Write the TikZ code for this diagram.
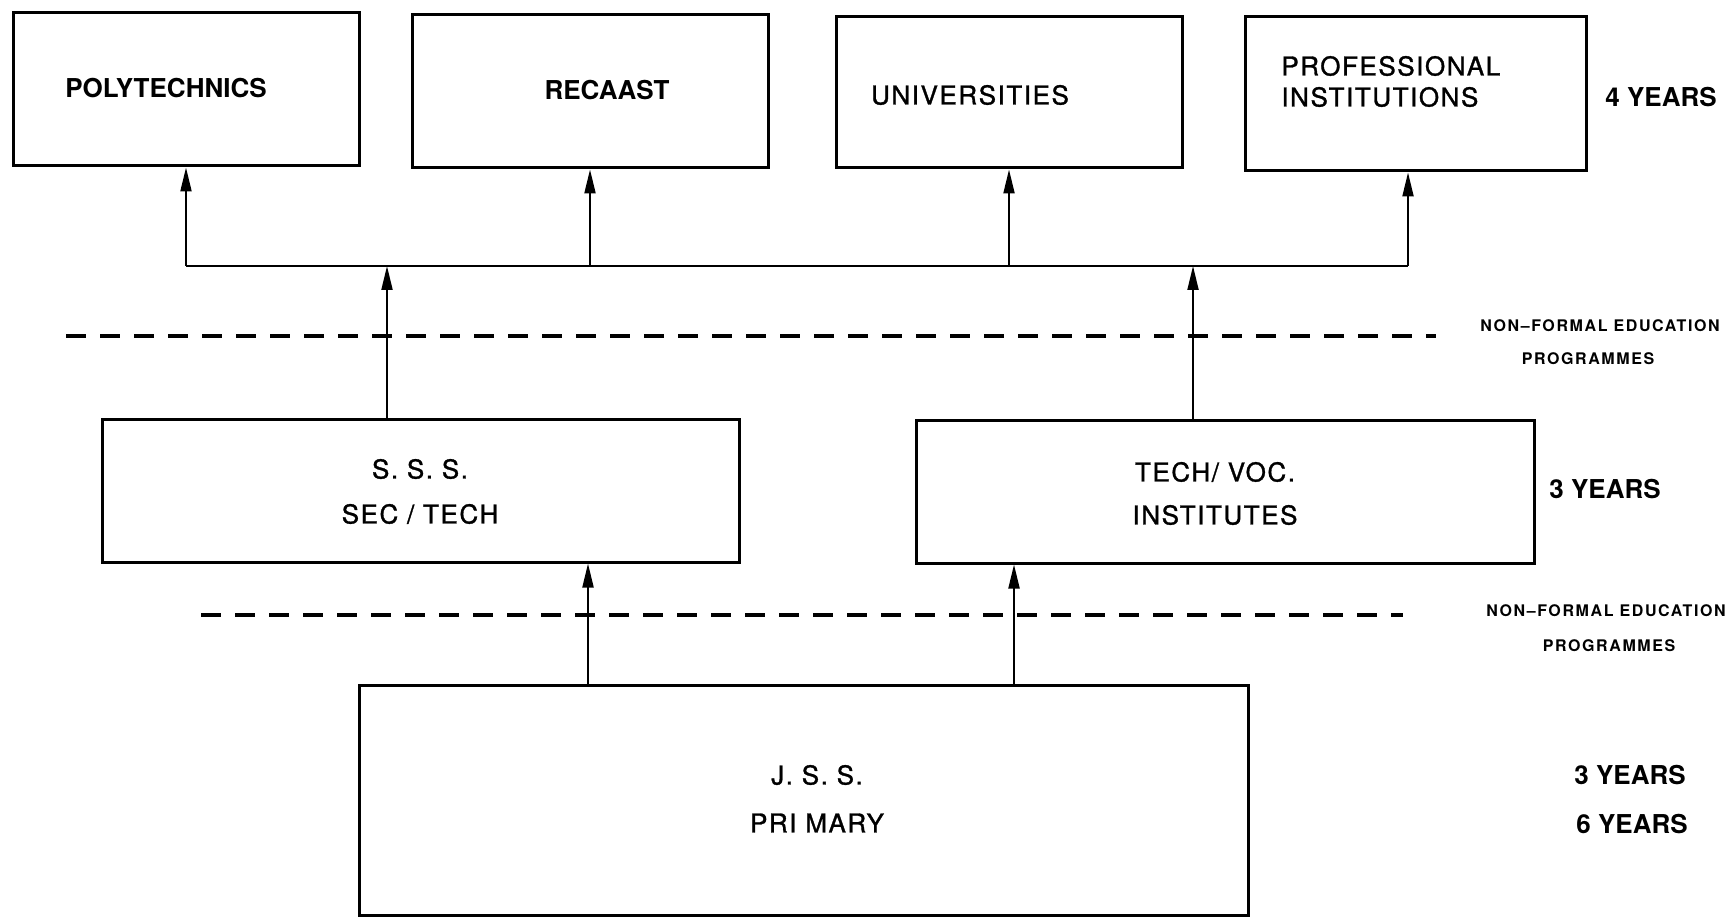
\documentclass[tikz,border=0pt]{standalone}
\usepackage{fontspec}
\setmainfont{TeX Gyre Heros}
\newfontfamily\boxfont[LetterSpace=6,FakeBold=1.2]{TeX Gyre Heros}
\newfontfamily\smallfont[LetterSpace=10]{TeX Gyre Heros}
\usetikzlibrary{arrows.meta}
\begin{document}
\begin{tikzpicture}[x=0.5pt,y=-0.5pt,
  box/.style={draw,line width=1.5pt,rectangle,inner sep=0pt},
  lbl/.style={font=\boxfont\fontsize{13}{15}\selectfont,inner sep=0pt,anchor=center},
  bl/.style={font=\bfseries\fontsize{13}{15}\selectfont,inner sep=0pt,anchor=center},
  yrs/.style={font=\bfseries\fontsize{13}{15}\selectfont,inner sep=0pt},
  small/.style={font=\smallfont\bfseries\fontsize{8}{10}\selectfont,inner sep=0pt},
  arr/.style={line width=1pt,-{Triangle[length=12pt,width=5.5pt]}},
  bus/.style={line width=1pt},
  dashline/.style={line width=1.6pt,dash pattern=on 10pt off 7pt}]
\useasboundingbox (0,0) rectangle (1732,919);
% top row
\node[box,minimum width=173pt,minimum height=76.5pt] (poly) at (186,89.5) {};
\node[box,minimum width=178pt,minimum height=76.5pt] (recaast) at (590,91.5) {};
\node[box,minimum width=173pt,minimum height=75.5pt] (univ) at (1009,92.5) {};
\node[box,minimum width=170.5pt,minimum height=77pt] (prof) at (1415.5,94) {};
\node[bl] (tpoly) at (166,88) {POLYTECHNICS};
\node[bl] (trec) at (607,90) {RECAAST};
\node[lbl] (tuni) at (970,95) {UNIVERSITIES};
\node[lbl,anchor=west] (tprof1) at (1281,66) {PROFESSIONAL};
\node[lbl,anchor=west] (tprof2) at (1281,97) {INSTITUTIONS};
\node[yrs] (y4) at (1661,97) {4 YEARS};
% middle row
\node[box,minimum width=318.5pt,minimum height=71.5pt] (sss) at (420.5,490.5) {};
\node[box,minimum width=309pt,minimum height=71.5pt] (tech) at (1225,491.5) {};
\node[lbl] (tsss1) at (420,469) {S. S. S.};
\node[lbl] (tsss2) at (420,514) {SEC / TECH};
\node[lbl] (ttech1) at (1215,472) {TECH/ VOC.};
\node[lbl] (ttech2) at (1215,515) {INSTITUTES};
\node[yrs] (y3a) at (1605,489) {3 YEARS};
% bottom
\node[box,minimum width=444.5pt,minimum height=115pt] (jss) at (803.5,800) {};
\node[lbl] (tjss1) at (817,775) {J. S. S.};
\node[lbl] (tjss2) at (817,823) {PRI MARY};
\node[yrs] (y3b) at (1630,775) {3 YEARS};
\node[yrs] (y6) at (1632,824) {6 YEARS};
% non-formal labels
\node[small] (nf1) at (1600,326) {NON\textendash FORMAL EDUCATION};
\node[small] (pg1) at (1588,359) {PROGRAMMES};
\node[small] (nf2) at (1606,611) {NON\textendash FORMAL EDUCATION};
\node[small] (pg2) at (1609,646) {PROGRAMMES};
% dashed lines
\coordinate (d1a) at (66,336);
\coordinate (d1b) at (1436,336);
\coordinate (d2a) at (201,615);
\coordinate (d2b) at (1403,615);
\draw[dashline] (d1a) -- (d1b);
\draw[dashline] (d2a) -- (d2b);
% bus
\coordinate (bL) at (186,266);
\coordinate (bR) at (1408,266);
\coordinate (bS) at (387,266);
\coordinate (bT) at (1193,266);
\draw[bus] (bL) -- (bR);
\draw[arr] (bL) -- (poly.south);
\draw[arr] (bL -| recaast.south) -- (recaast.south);
\draw[arr] (bL -| univ.south) -- (univ.south);
\draw[arr] (bR) -- (bR |- prof.south);
\draw[arr] (sss.north -| bS) -- (bS);
\draw[arr] (tech.north -| bT) -- (bT);
% from J.S.S.
\coordinate (jA) at (588,685);
\coordinate (jB) at (1014,685);
\draw[arr] (jss.north -| jA) -- (jA |- sss.south);
\draw[arr] (jss.north -| jB) -- (jB |- tech.south);
\end{tikzpicture}
\end{document}
